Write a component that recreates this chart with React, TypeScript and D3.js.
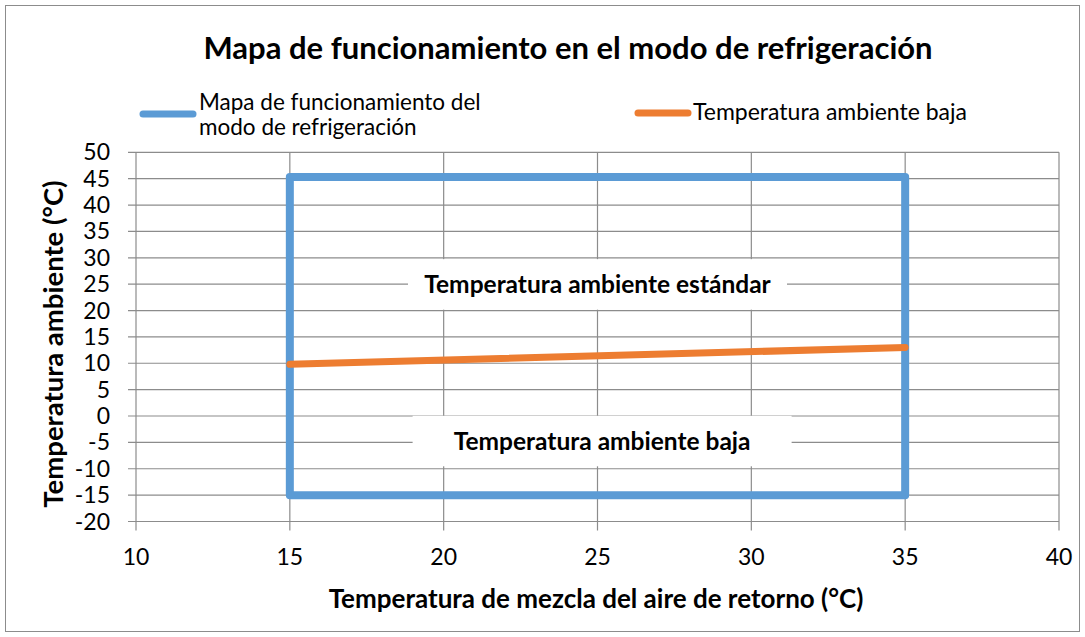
import React from 'react';
import * as d3 from 'd3';

// Axis ticks
const xTicks = [10, 15, 20, 25, 30, 35, 40];
const yTicks = [-20, -15, -10, -5, 0, 5, 10, 15, 20, 25, 30, 35, 40, 45, 50];

// Operating map of the cooling mode (closed outline)
const mapX = [15, 15, 35, 35, 15];
const mapY = [-15, 45.3, 45.3, -15, -15];

// Low ambient temperature boundary
const lowX = [15, 35];
const lowY = [9.8, 13];

const legendNames = [
  ['Mapa de funcionamiento del', 'modo de refrigeración'],
  ['Temperatura ambiente baja'],
];

// Region labels, anchored in data units
const regionLabels = ['Temperatura ambiente estándar', 'Temperatura ambiente baja'];
const regionX = [25, 25.15];
const regionY = [25, -4.7];

const BLUE = '#5b9bd5';
const ORANGE = '#ed7d31';
const GRID = '#8c8c8c';
const FONT = 'Lato, "Open Sans", sans-serif';

const W = 1085;
const H = 637;
const margin = { top: 152.3, right: 26, bottom: 115.5, left: 136 };

const App: React.FC = () => {
  const x = d3.scaleLinear().domain([10, 40]).range([margin.left, W - margin.right]);
  const y = d3.scaleLinear().domain([-20, 50]).range([H - margin.bottom, margin.top]);

  const line = d3.line<[number, number]>()
    .x(d => x(d[0]))
    .y(d => y(d[1]));

  const mapPath = line(mapX.map((v, i) => [v, mapY[i]] as [number, number])) || '';
  const lowPath = line(lowX.map((v, i) => [v, lowY[i]] as [number, number])) || '';

  const [x0, x1] = x.range();
  const [y0, y1] = y.range();

  return (
    <svg width={W} height={H} style={{ position: 'absolute', left: 0, top: 0, background: '#fff' }}
      fontFamily={FONT}>
      <rect x={5.5} y={5.5} width={W - 11} height={H - 11} fill="#fff" stroke={GRID} strokeWidth={1} />

      {/* title */}
      <text x={568} y={59} textAnchor="middle" fontSize={31} fontWeight="bold" fill="#000">
        Mapa de funcionamiento en el modo de refrigeración
      </text>

      {/* legend */}
      <line x1={143} x2={193} y1={114} y2={114} stroke={BLUE} strokeWidth={7} strokeLinecap="round" />
      {legendNames[0].map((t, i) => (
        <text key={'lg' + i} x={199} y={109.5 + i * 25.5} fontSize={22.5} fill="#000">{t}</text>
      ))}
      <line x1={638} x2={688} y1={113} y2={113} stroke={ORANGE} strokeWidth={7} strokeLinecap="round" />
      <text x={693} y={120} fontSize={23} fill="#000">{legendNames[1][0]}</text>

      {/* grid */}
      {yTicks.map(t => (
        <line key={'gy' + t} x1={x0 - 8} x2={x1} y1={y(t)} y2={y(t)} stroke={GRID} strokeWidth={1.2} />
      ))}
      {xTicks.map(t => (
        <line key={'gx' + t} x1={x(t)} x2={x(t)} y1={y1} y2={y0 + 9} stroke={GRID} strokeWidth={1.2} />
      ))}

      {/* tick labels */}
      {yTicks.map(t => (
        <text key={'ly' + t} x={110} y={y(t)} dy={8} textAnchor="end" fontSize={23} fill="#000">{t}</text>
      ))}
      {xTicks.map(t => (
        <text key={'lx' + t} x={x(t)} y={565} textAnchor="middle" fontSize={23} fill="#000">{t}</text>
      ))}

      {/* axis titles */}
      <text x={596} y={608} textAnchor="middle" fontSize={26} fontWeight="bold" fill="#000">
        Temperatura de mezcla del aire de retorno (°C)
      </text>
      <text transform="translate(63,344) rotate(-90)" textAnchor="middle" fontSize={27.5} fontWeight="bold" fill="#000">
        Temperatura ambiente (°C)
      </text>

      {/* series */}
      <path d={mapPath} fill="none" stroke={BLUE} strokeWidth={8} strokeLinejoin="round" strokeLinecap="round" />
      <path d={lowPath} fill="none" stroke={ORANGE} strokeWidth={7} strokeLinecap="round" />

      {/* region labels */}
      {regionLabels.map((t, i) => (
        <g key={'rl' + i} transform={`translate(${x(regionX[i])},${y(regionY[i])})`}>
          <rect x={-189.5} y={-25} width={379} height={50.5} fill="#fff" />
          <text y={9} textAnchor="middle" fontSize={24.5} fontWeight="bold" fill="#000">{t}</text>
        </g>
      ))}
    </svg>
  );
};

export default App;
